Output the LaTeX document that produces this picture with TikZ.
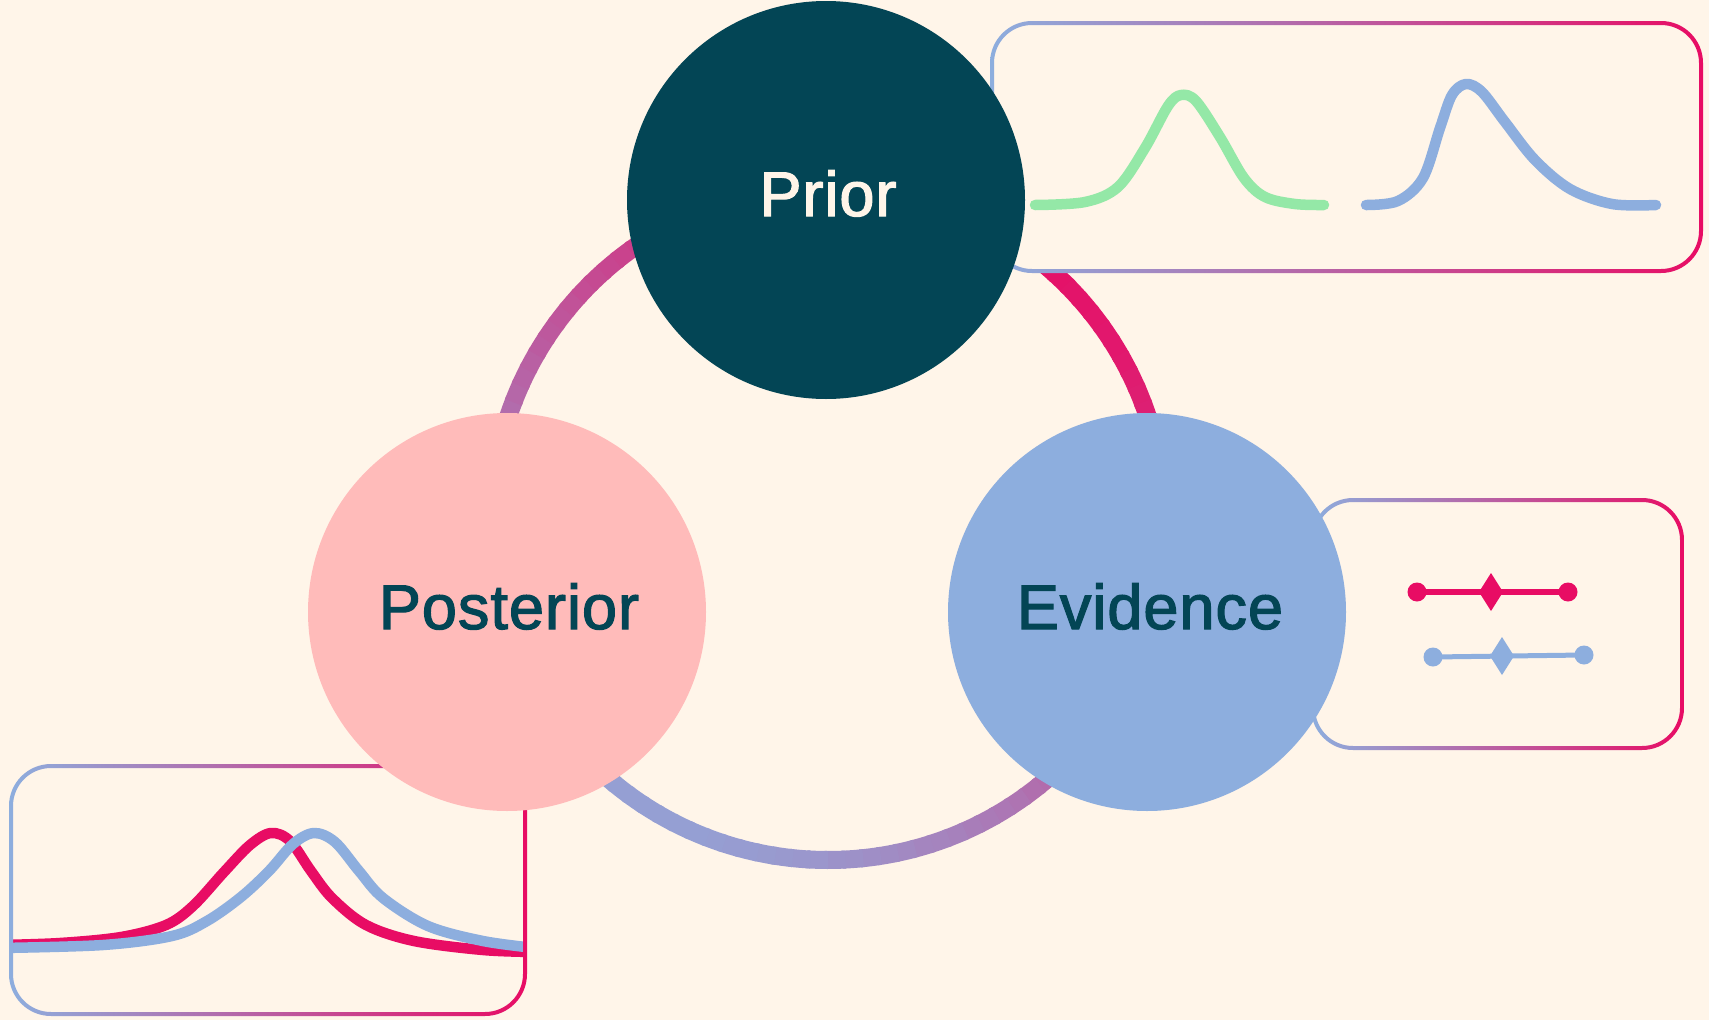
\documentclass[tikz,border=0pt]{standalone}
\usepackage{fontspec}
\setmainfont{Liberation Sans}[FakeBold=2, LetterSpace=1.6]
\usetikzlibrary{calc}
\definecolor{bg}{HTML}{FFF5E9}
\definecolor{teal}{HTML}{034555}
\definecolor{cream}{HTML}{FFF5E9}
\definecolor{rose}{HTML}{FFBBBA}
\definecolor{cblue}{HTML}{8DAEDE}
\definecolor{cpink}{HTML}{E80C64}
\definecolor{cgreen}{HTML}{94E8A7}
\newcommand\gradbox[4]{%
  \fill[bg, rounded corners=40] (#1,#2) rectangle (#3,#4);
}
\newcommand\gradborder[4]{%
  \shade[left color=cblue, right color=cpink, even odd rule]
    [rounded corners=42] (#1-2,#2-2) rectangle (#3+2,#4+2)
    [rounded corners=38] (#1+2,#2+2) rectangle (#3-2,#4-2);
}
\begin{document}
\begin{tikzpicture}[x=1pt,y=-1pt,
  bubble/.style={circle, inner sep=0pt, minimum size=398pt},
  lbl/.style={font=\fontsize{63}{70}\selectfont, anchor=base, inner sep=0pt},
  curve/.style={line width=10.5pt, line cap=round, line join=round},
  dotnode/.style={circle, inner sep=0pt, minimum size=19pt}]
\useasboundingbox (0,0) rectangle (1709,1020);
\fill[bg] (0,0) rectangle (1709,1020);

% ring
\coordinate (rc) at (828,523);
\foreach \a in {0,3,...,357}{
  \pgfmathtruncatemacro\p{53+44*cos(\a+1.5+56)}
  \draw[line width=18pt, color=cpink!\p!cblue] (rc) ++(\a:337) arc[start angle=\a, end angle=\a+3.6, radius=337];
}

% Prior box
\gradbox{992}{23}{1701}{271}
\draw[curve, cgreen] plot[smooth, tension=0.55] coordinates {(1035,205) (1085,202) (1118,187) (1145,148) (1168,106) (1181,95) (1196,101) (1220,137) (1244,178) (1265,197) (1295,204) (1324,205)};
\draw[curve, cblue] plot[smooth, tension=0.55] coordinates {(1366,205) (1398,201) (1423,178) (1440,128) (1452,95) (1466,84) (1482,92) (1505,122) (1535,160) (1570,189) (1612,204) (1656,205)};
\gradborder{992}{23}{1701}{271}

% Evidence box
\gradbox{1313}{500}{1682}{748}
\node[dotnode, fill=cpink] (ra) at (1417,592) {};
\node[dotnode, fill=cpink] (rb) at (1568,592) {};
\coordinate (rd) at (1491,592);
\draw[cpink, line width=6.5pt] (ra.center) -- (rb.center);
\fill[cpink] (rd) ++(0,-19) -- ++(12,19) -- ++(-12,19) -- ++(-12,-19) -- cycle;
\node[dotnode, fill=cblue] (ba) at (1433,657) {};
\node[dotnode, fill=cblue] (bb) at (1584,655) {};
\coordinate (bd) at (1502,656);
\draw[cblue, line width=5pt] (ba.center) -- (bb.center);
\fill[cblue] (bd) ++(0,-19) -- ++(12,19) -- ++(-12,19) -- ++(-12,-19) -- cycle;
\gradborder{1313}{500}{1682}{748}

% Posterior box
\gradbox{11}{766}{525}{1014}
\begin{scope}
\clip[rounded corners=40] (11,766) rectangle (525,1014);
\draw[curve, cpink, line cap=butt] plot[smooth, tension=0.55] coordinates {(0,945) (60,943) (121,937) (166,925) (193,906) (224,872) (250,845) (271,833) (290,841) (311,871) (332,898) (366,925) (414,941) (483,950) (535,952)};
\draw[curve, cblue, line cap=butt] plot[smooth, tension=0.55] coordinates {(0,948) (103,945) (172,936) (207,921) (241,897) (269,871) (293,844) (314,833) (335,842) (359,871) (383,898) (428,926) (483,941) (535,948)};
\end{scope}
\gradborder{11}{766}{525}{1014}

% circles
\node[bubble, fill=teal] (prior) at (826,200) {};
\node[bubble, fill=rose] (posterior) at (507,612) {};
\node[bubble, fill=cblue] (evidence) at (1147,612) {};
\node[lbl, text=cream] (priorlbl) at (828,216) {Prior};
\node[lbl, text=teal] (posteriorlbl) at (509,629) {Posterior};
\node[lbl, text=teal] (evidencelbl) at (1150,629) {Evidence};
\end{tikzpicture}
\end{document}
